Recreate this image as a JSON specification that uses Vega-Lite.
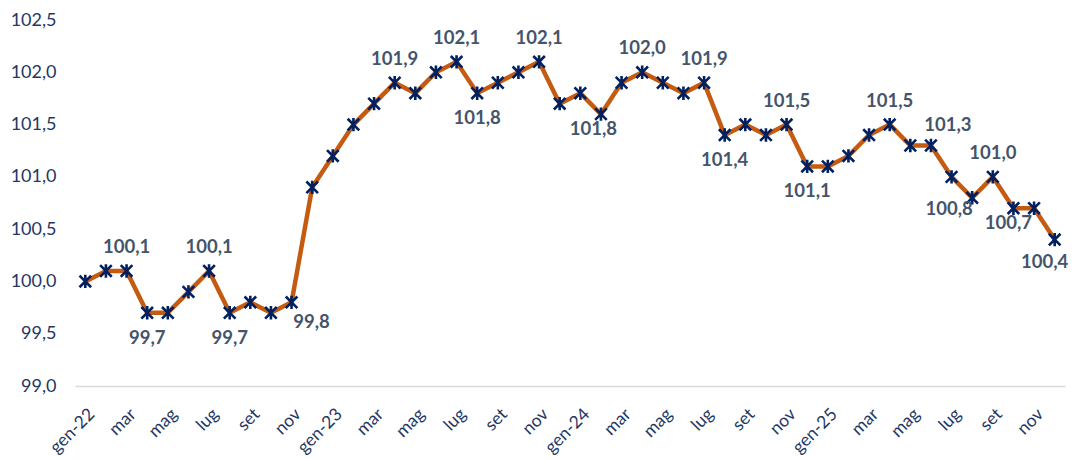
{
  "$schema": "https://vega.github.io/schema/vega-lite/v6.json",
  "width": 990,
  "height": 366,
  "autosize": "none",
  "padding": {"left": 75, "top": 20, "right": 10, "bottom": 73},
  "background": "white",
  "config": {
    "view": {"stroke": null},
    "font": "Lato",
    "locale": {"number": {"decimal": ",", "thousands": ".", "grouping": [3], "currency": ["", " €"]}}
  },
  "data": {"values": [
    {"mese": "gen-22", "valore": 100.0},
    {"mese": "feb-22", "valore": 100.1},
    {"mese": "mar-22", "valore": 100.1, "pos": "above"},
    {"mese": "apr-22", "valore": 99.7, "pos": "below"},
    {"mese": "mag-22", "valore": 99.7},
    {"mese": "giu-22", "valore": 99.9},
    {"mese": "lug-22", "valore": 100.1, "pos": "above"},
    {"mese": "ago-22", "valore": 99.7, "pos": "below"},
    {"mese": "set-22", "valore": 99.8},
    {"mese": "ott-22", "valore": 99.7},
    {"mese": "nov-22", "valore": 99.8, "pos": "belowright"},
    {"mese": "dic-22", "valore": 100.9},
    {"mese": "gen-23", "valore": 101.2},
    {"mese": "feb-23", "valore": 101.5},
    {"mese": "mar-23", "valore": 101.7},
    {"mese": "apr-23", "valore": 101.9, "pos": "above"},
    {"mese": "mag-23", "valore": 101.8},
    {"mese": "giu-23", "valore": 102.0},
    {"mese": "lug-23", "valore": 102.1, "pos": "above"},
    {"mese": "ago-23", "valore": 101.8, "pos": "below"},
    {"mese": "set-23", "valore": 101.9},
    {"mese": "ott-23", "valore": 102.0},
    {"mese": "nov-23", "valore": 102.1, "pos": "above"},
    {"mese": "dic-23", "valore": 101.7},
    {"mese": "gen-24", "valore": 101.8, "pos": "belowfar"},
    {"mese": "feb-24", "valore": 101.6},
    {"mese": "mar-24", "valore": 101.9},
    {"mese": "apr-24", "valore": 102.0, "pos": "above"},
    {"mese": "mag-24", "valore": 101.9},
    {"mese": "giu-24", "valore": 101.8},
    {"mese": "lug-24", "valore": 101.9, "pos": "above"},
    {"mese": "ago-24", "valore": 101.4, "pos": "below"},
    {"mese": "set-24", "valore": 101.5},
    {"mese": "ott-24", "valore": 101.4},
    {"mese": "nov-24", "valore": 101.5, "pos": "above"},
    {"mese": "dic-24", "valore": 101.1, "pos": "below"},
    {"mese": "gen-25", "valore": 101.1},
    {"mese": "feb-25", "valore": 101.2},
    {"mese": "mar-25", "valore": 101.4},
    {"mese": "apr-25", "valore": 101.5, "pos": "above"},
    {"mese": "mag-25", "valore": 101.3},
    {"mese": "giu-25", "valore": 101.3, "pos": "aboveright"},
    {"mese": "lug-25", "valore": 101.0},
    {"mese": "ago-25", "valore": 100.8, "pos": "belowleft"},
    {"mese": "set-25", "valore": 101.0, "pos": "above"},
    {"mese": "ott-25", "valore": 100.7, "pos": "belowleftnear"},
    {"mese": "nov-25", "valore": 100.7},
    {"mese": "dic-25", "valore": 100.4, "pos": "belowleftmid"}
  ]},
  "encoding": {
    "x": {
      "field": "mese", "type": "ordinal", "sort": null, "title": null,
      "axis": {
        "labelAngle": -45,
        "labelExpr": "indexof(['gen','mar','mag','lug','set','nov'], split(datum.label,'-')[0]) < 0 ? '' : (split(datum.label,'-')[0] == 'gen' ? datum.label : split(datum.label,'-')[0])",
        "labelOverlap": false,
        "labelFontSize": 17.5,
        "labelColor": "#1F3864",
        "labelPadding": 19,
        "ticks": false,
        "grid": false,
        "domainColor": "#d9d9d9",
        "domainWidth": 1.5
      }
    },
    "y": {
      "field": "valore", "type": "quantitative", "title": null,
      "scale": {"domain": [99, 102.5], "zero": false, "nice": false},
      "axis": {
        "values": [99, 99.5, 100, 100.5, 101, 101.5, 102, 102.5],
        "format": ".1f",
        "labelFontSize": 18,
        "labelColor": "#1F3864",
        "labelPadding": 19,
        "ticks": false,
        "domain": false,
        "grid": false
      }
    }
  },
  "layer": [
    {"mark": {"type": "line", "color": "#C55A11", "strokeWidth": 4.5}},
    {"mark": {"type": "point", "shape": "M-1,-1L1,1M-1,1L1,-1M0,-1.15L0,1.15", "filled": false, "stroke": "#002060", "strokeWidth": 2.6, "size": 135, "opacity": 1}},
    {"transform": [{"filter": "datum.pos == 'above'"}], "mark": {"type": "text", "dy": -24, "fontSize": 18.5, "fontWeight": "bold", "color": "#44546A", "baseline": "middle"}, "encoding": {"text": {"field": "valore", "format": ".1f"}}},
    {"transform": [{"filter": "datum.pos == 'below'"}], "mark": {"type": "text", "dy": 25, "fontSize": 18.5, "fontWeight": "bold", "color": "#44546A", "baseline": "middle"}, "encoding": {"text": {"field": "valore", "format": ".1f"}}},
    {"transform": [{"filter": "datum.pos == 'belowright'"}], "mark": {"type": "text", "dx": 20, "dy": 20, "fontSize": 18.5, "fontWeight": "bold", "color": "#44546A", "baseline": "middle"}, "encoding": {"text": {"field": "valore", "format": ".1f"}}},
    {"transform": [{"filter": "datum.pos == 'belowfar'"}], "mark": {"type": "text", "dx": 13, "dy": 36, "fontSize": 18.5, "fontWeight": "bold", "color": "#44546A", "baseline": "middle"}, "encoding": {"text": {"field": "valore", "format": ".1f"}}},
    {"transform": [{"filter": "datum.pos == 'aboveright'"}], "mark": {"type": "text", "dx": 17, "dy": -20, "fontSize": 18.5, "fontWeight": "bold", "color": "#44546A", "baseline": "middle"}, "encoding": {"text": {"field": "valore", "format": ".1f"}}},
    {"transform": [{"filter": "datum.pos == 'belowleft'"}], "mark": {"type": "text", "dx": -23, "dy": 11, "fontSize": 18.5, "fontWeight": "bold", "color": "#44546A", "baseline": "middle"}, "encoding": {"text": {"field": "valore", "format": ".1f"}}},
    {"transform": [{"filter": "datum.pos == 'belowleftnear'"}], "mark": {"type": "text", "dx": -5, "dy": 15, "fontSize": 18.5, "fontWeight": "bold", "color": "#44546A", "baseline": "middle"}, "encoding": {"text": {"field": "valore", "format": ".1f"}}},
    {"transform": [{"filter": "datum.pos == 'belowleftmid'"}], "mark": {"type": "text", "dx": -10, "dy": 22, "fontSize": 18.5, "fontWeight": "bold", "color": "#44546A", "baseline": "middle"}, "encoding": {"text": {"field": "valore", "format": ".1f"}}}
  ]
}
